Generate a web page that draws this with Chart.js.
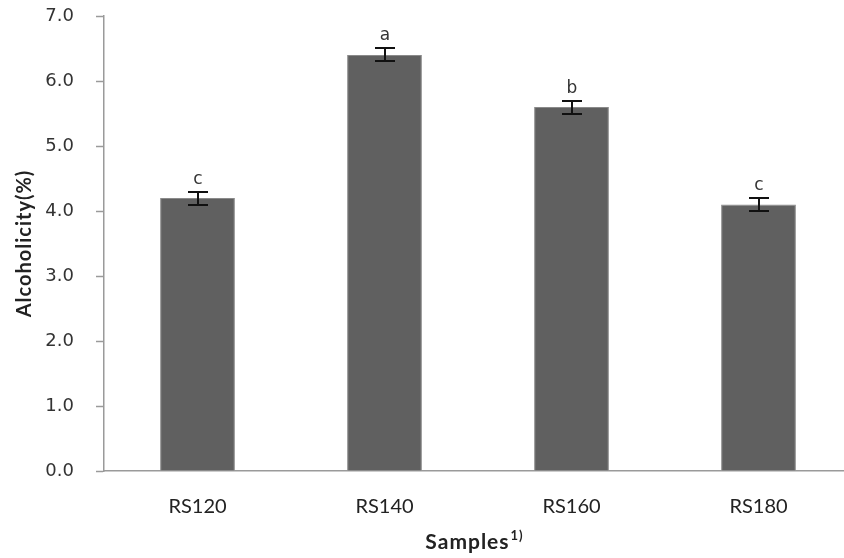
<!DOCTYPE html>
<html>
<head>
<meta charset="utf-8">
<script src="https://cdn.jsdelivr.net/npm/chart.js@4"></script>
<style>
  html, body { margin: 0; padding: 0; background: #fff; overflow: hidden; }
  #wrap { width: 852px; height: 558px; }
</style>
</head>
<body>
<div id="wrap"><canvas id="chart" width="852" height="558"></canvas></div>
<script>
// Data
const samples = ["RS120", "RS140", "RS160", "RS180"];
const alcohol = [4.2, 6.4, 5.6, 4.1];
const errors  = [0.1, 0.1, 0.1, 0.1];
const letters = ["c", "a", "b", "c"];

// error bars + significance letters
const errorBars = {
  id: "errorBars",
  afterDatasetsDraw(chart) {
    const { ctx, scales: { x, y } } = chart;
    ctx.save();
    ctx.strokeStyle = "#111";
    ctx.lineWidth = 2;
    ctx.fillStyle = "#333";
    ctx.font = "17px 'DejaVu Sans'";
    ctx.textAlign = "center";
    ctx.textBaseline = "alphabetic";
    samples.forEach((s, i) => {
      const cx = Math.round(x.getPixelForValue(i));
      const top = Math.round(y.getPixelForValue(alcohol[i] + errors[i]));
      const bot = Math.round(y.getPixelForValue(alcohol[i] - errors[i]));
      ctx.beginPath();
      ctx.moveTo(cx, top); ctx.lineTo(cx, bot);
      ctx.moveTo(cx - 10, top); ctx.lineTo(cx + 10, top);
      ctx.moveTo(cx - 10, bot); ctx.lineTo(cx + 10, bot);
      ctx.stroke();
      ctx.fillText(letters[i], cx, top - 8);
    });
    ctx.restore();
  }
};

// axis titles (spaced-out lettering, x title has a superscript)
const axisTitles = {
  id: "axisTitles",
  afterDraw(chart) {
    const { ctx, chartArea } = chart;
    ctx.save();
    ctx.fillStyle = "#222";
    ctx.textBaseline = "alphabetic";
    ctx.letterSpacing = "1px";

    // x title
    const cx = 474;
    ctx.font = "bold 21px Lato";
    const main = "Samples";
    const w = ctx.measureText(main).width;
    ctx.font = "bold 13px Lato";
    const sup = "1)";
    const w2 = ctx.measureText(sup).width;
    const x0 = cx - (w + w2) / 2;
    ctx.textAlign = "left";
    ctx.font = "bold 21px Lato";
    ctx.fillText(main, x0, 549);
    ctx.font = "bold 13px Lato";
    ctx.fillText(sup, x0 + w + 1, 540);

    // y title
    ctx.translate(31, (chartArea.top + chartArea.bottom) / 2);
    ctx.rotate(-Math.PI / 2);
    ctx.textAlign = "center";
    ctx.font = "bold 20px Lato";
    ctx.fillText("Alcoholicity(%)", 0, 0);
    ctx.restore();
  }
};

new Chart(document.getElementById("chart"), {
  type: "bar",
  data: {
    labels: samples,
    datasets: [{
      data: alcohol,
      backgroundColor: "#606060",
      borderColor: "#8a8a8a",
      borderWidth: 1,
      categoryPercentage: 1.0,
      barPercentage: 0.4
    }]
  },
  options: {
    responsive: false,
    animation: false,
    layout: { padding: { top: 16, right: 0, left: 0, bottom: 0 } },
    plugins: { legend: { display: false }, tooltip: { enabled: false } },
    scales: {
      x: {
        grid: { display: true, drawOnChartArea: false, drawTicks: false },
        border: { color: "#9a9a9a", width: 1.5 },
        ticks: { color: "#222", font: { family: "Lato", size: 20 }, padding: 24 },
        afterFit(scale) { scale.height = 87; }
      },
      y: {
        min: 0, max: 7,
        grid: { display: true, drawOnChartArea: false, drawTicks: true, tickLength: 8, tickColor: "#9a9a9a", tickWidth: 1.5 },
        border: { color: "#9a9a9a", width: 1.5 },
        ticks: {
          stepSize: 1,
          color: "#333",
          font: { family: "DejaVu Sans", size: 18 },
          padding: 22,
          callback: v => v.toFixed(1)
        },
        afterFit(scale) {
          scale.width = 104;
          scale.paddingTop = 0;
          scale.paddingBottom = 0;
        }
      }
    }
  },
  plugins: [errorBars, axisTitles]
});
</script>
</body>
</html>
